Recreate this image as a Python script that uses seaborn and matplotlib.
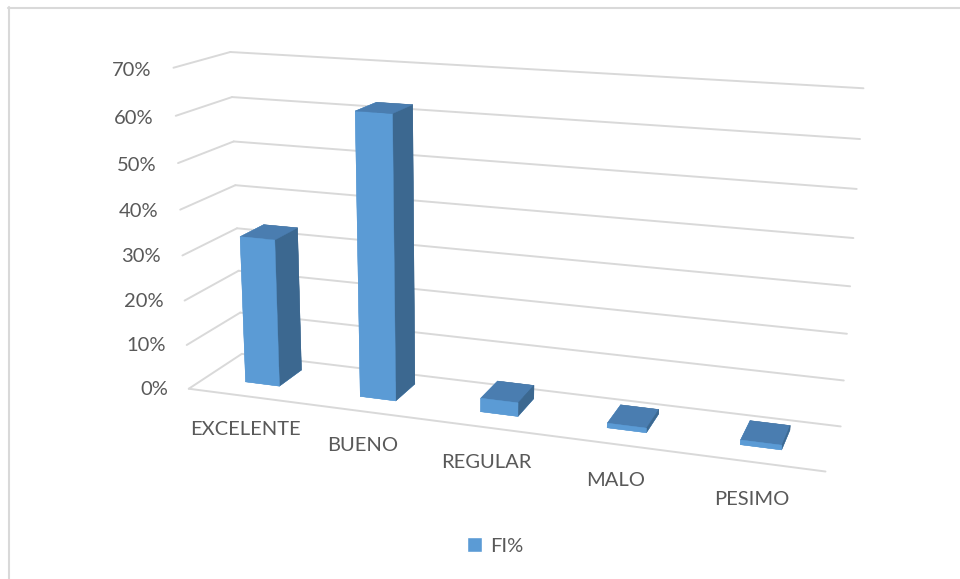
import matplotlib
matplotlib.use("Agg")
import numpy as np
import pandas as pd
import seaborn as sns
import matplotlib.pyplot as plt
from matplotlib.lines import Line2D
from matplotlib.patches import Patch

# Data
categories = ["EXCELENTE", "BUENO", "REGULAR", "MALO", "PESIMO"]
fi_share = [0.33, 0.62, 0.03, 0.01, 0.01]
series_label = "FI%"
z_ticks = [0.0, 0.1, 0.2, 0.3, 0.4, 0.5, 0.6, 0.7]
z_tick_labels = ["0%", "10%", "20%", "30%", "40%", "50%", "60%", "70%"]

sns.set_theme(style="white")
plt.rcParams["font.family"] = ["Lato", "DejaVu Sans"]

FRONT = "#5B9BD5"
TOP = "#4A7DB0"
SIDE = "#3C6890"
GRID = "#D9D9D9"
TEXT = "#595959"
FS = 14.5

df = pd.DataFrame({"categoria": categories, "valor": fi_share})
n = len(df)

W, H = 960, 579
fig = plt.figure(figsize=(W / 100, H / 100), dpi=100)
S = 960
cx, cy = 494, 260
ax = fig.add_axes([(cx - S / 2) / W, (H - cy - S / 2) / H, S / W, S / H],
                  projection="3d")
ax.set_proj_type("persp", focal_length=0.303)
ax.view_init(elev=15.1, azim=-71.9, roll=-0.46)
ax.set_box_aspect((5, 0.9, 2.56), zoom=0.766)
ax.set_xlim(0, n, view_margin=0)
ax.set_ylim(0, 1, view_margin=0)
ax.set_zlim(0, z_ticks[-1], view_margin=0)
ax.set_axis_off()
ax.computed_zorder = False

# Back wall, side wall and floor lines
for t in z_ticks:
    ax.plot([0, n], [1, 1], [t, t], color=GRID, lw=1.4, zorder=1)
    ax.plot([0, 0], [0, 1], [t, t], color=GRID, lw=1.4, zorder=1)
ax.plot([0, n], [0, 0], [0, 0], color=GRID, lw=1.4, zorder=1)

# 3D columns
bw, bd, yc = 0.30, 0.45, 0.55
face_colors = []
for _ in range(n):
    # bottom, top, front, back, left, right
    face_colors += [FRONT, TOP, FRONT, SIDE, FRONT, SIDE]
pos = np.arange(n) + 0.5
ax.bar3d(pos - bw / 2, np.full(n, yc - bd / 2), np.zeros(n),
         bw, bd, df["valor"].to_numpy(), color=face_colors,
         edgecolor=face_colors, linewidth=0.3, shade=False, zorder=5)

# Value axis labels
for t, lab in zip(z_ticks, z_tick_labels):
    ax.text(-0.19, 0, t - 0.008, lab, ha="right", va="center", fontsize=FS, color=TEXT)

# Category labels
for p, cat in zip(pos, df["categoria"]):
    ax.text(p, -0.02, -0.075, cat, ha="center", va="center", fontsize=FS, color=TEXT)

fig.legend(handles=[Patch(facecolor=FRONT, label=series_label)], loc="center",
           bbox_to_anchor=(495 / W, 1 - 546 / H), frameon=False, fontsize=FS,
           handlelength=0.75, handleheight=0.75, handletextpad=0.4, labelcolor=TEXT)

# Chart area border (top and left edges)
fig.add_artist(Line2D([8 / W, 1], [1 - 7.5 / H] * 2, transform=fig.transFigure,
                      color=GRID, lw=1.5))
fig.add_artist(Line2D([8.5 / W] * 2, [0, 1 - 7 / H], transform=fig.transFigure,
                      color=GRID, lw=1.5))

fig.savefig("out.png", dpi=100)
